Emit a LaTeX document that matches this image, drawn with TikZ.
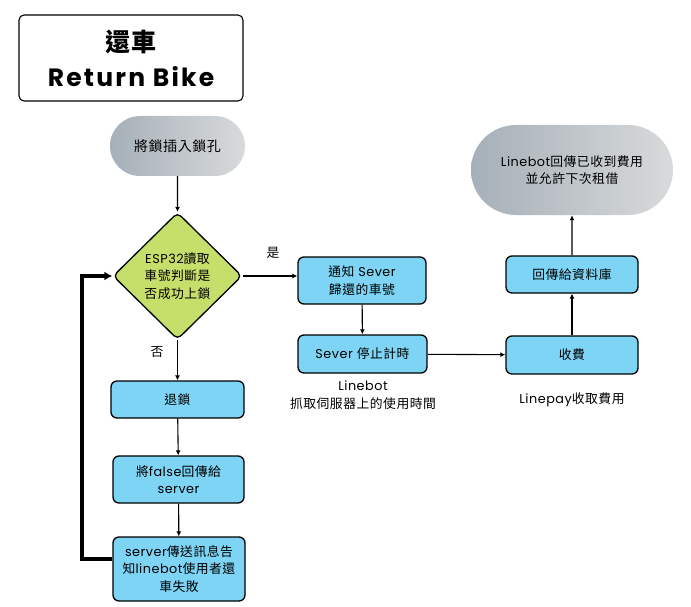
\documentclass[tikz,border=0pt]{standalone}
\usepackage{fontspec}
\setmainfont{Poppins}[LetterSpace=4]
\newfontfamily\zhfont{Noto Sans CJK TC}[LetterSpace=4]
\newcommand{\zh}[1]{{\zhfont #1}}
\usetikzlibrary{shapes.geometric,shapes.misc,arrows.meta}
\definecolor{boxblue}{HTML}{7DD4F4}
\definecolor{dgreen}{HTML}{C6DE6A}
\definecolor{gleft}{HTML}{A6B0B8}
\definecolor{gright}{HTML}{D8DADB}
\tikzset{
  base/.style={font=\fontsize{12.8}{17.5}\selectfont, align=center, inner sep=0pt, text=black},
  procbox/.style={base, draw=black, line width=1.3pt, fill=boxblue, rounded corners=6pt, rectangle},
  termbox/.style={base, rounded rectangle, left color=gleft, right color=gright, draw=none},
  decbox/.style={base, diamond, draw=black, line width=1.3pt, fill=dgreen, rounded corners=5pt, aspect=1},
  flow/.style={line width=1.1pt, -{Latex[length=5pt,width=5pt]}},
  loopline/.style={line width=3.6pt, -{Latex[length=8pt,width=9pt]}},
  lbl/.style={base}
}
\begin{document}
\begin{tikzpicture}[x=1pt,y=-1pt]
\useasboundingbox (0,0) rectangle (691,607);
\node[base, draw=black, line width=1.1pt, rounded corners=5pt, minimum width=224pt, minimum height=86pt, font=\fontsize{25}{35}\selectfont\bfseries\addfontfeatures{LetterSpace=9}] (title) at (131,58) {{\zhfont\bfseries 還車}\\Return Bike};
\node[termbox, minimum width=135pt, minimum height=60pt, font=\fontsize{14}{18}\selectfont] (start) at (177.5,146) {\zh{將鎖插入鎖孔}};
\node[decbox, minimum width=129pt, minimum height=127pt] (dec) at (177.5,276) {ESP32\zh{讀取}\\\zh{車號判斷是}\\\zh{否成功上鎖}};
\node[procbox, minimum width=133pt, minimum height=37pt] (unlock) at (177.5,399.5) {\zh{退鎖}};
\node[procbox, minimum width=131pt, minimum height=47pt] (false) at (178.5,479.5) {\zh{將}false\zh{回傳給}\\server};
\node[procbox, minimum width=132pt, minimum height=64pt] (fail) at (179,569) {server\zh{傳送訊息告}\\\zh{知}linebot\zh{使用者還}\\\zh{車失敗}};
\node[procbox, minimum width=128pt, minimum height=47pt] (notify) at (362,280.5) {\zh{通知} Sever\\\zh{歸還的車號}};
\node[procbox, minimum width=129pt, minimum height=38pt] (stop) at (362.5,354) {Sever \zh{停止計時}};
\node[procbox, minimum width=132pt, minimum height=38pt] (pay) at (572,355) {\zh{收費}};
\node[procbox, minimum width=132pt, minimum height=37pt] (db) at (572,274.5) {\zh{回傳給資料庫}};
\node[termbox, minimum width=202pt, minimum height=90pt] (end) at (572,170) {Linebot\zh{回傳已收到費用}\\\zh{並允許下次租借}};
\node[lbl] (yes) at (273,253) {\zh{是}};
\node[lbl] (no) at (157,352) {\zh{否}};
\node[lbl] (lb) at (363,395) {Linebot\\\zh{抓取伺服器上的使用時間}};
\node[lbl] (lp) at (572,400) {Linepay\zh{收取費用}};
\coordinate (lc) at (82,559);
\draw[flow] (start) -- (dec);
\draw[flow] (dec.east) -- (dec.east -| notify.west);
\draw[flow] (dec) -- (unlock);
\draw[flow] (unlock) -- (false);
\draw[flow] (false) -- (fail);
\draw[flow] (notify) -- (stop);
\draw[flow] (stop) -- (pay);
\draw[flow] (pay) -- (db);
\draw[flow] (db) -- (end);
\draw[loopline] (fail.west |- lc) -- (lc) |- (dec.west);
\end{tikzpicture}
\end{document}
